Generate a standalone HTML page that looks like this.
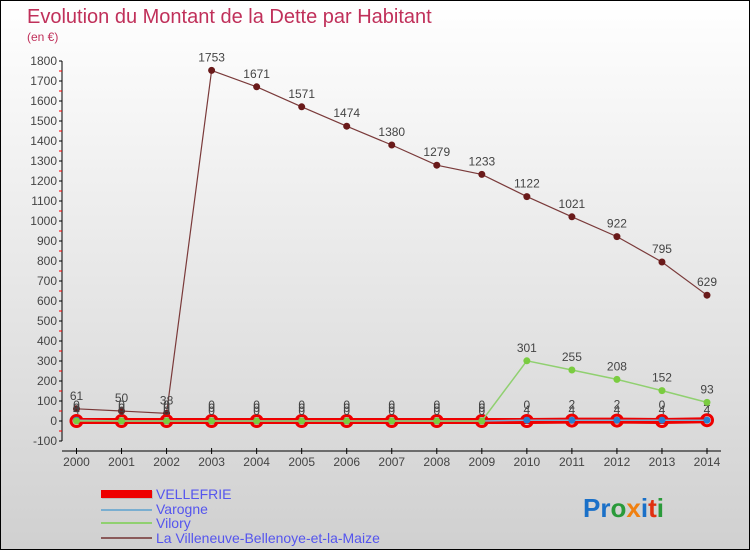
<!DOCTYPE html>
<html><head><meta charset="utf-8"><style>
body{margin:0}
#c{width:748px;height:548px;border:1px solid #000;position:relative;background:linear-gradient(#fff,#d0d0d0);font-family:"Liberation Sans",sans-serif;overflow:hidden}
</style></head><body>
<div id="c">
<svg id="s" width="748" height="548" xmlns="http://www.w3.org/2000/svg">
<text x="26" y="22" font-size="20" fill="#c0305a">Evolution du Montant de la Dette par Habitant</text>
<text x="26" y="40" font-size="12" fill="#c0305a">(en €)</text>
<g id="ax"></g><g id="ser"></g>
<g>
<rect x="101" y="490" width="51" height="8" fill="#bbb"/>
<rect x="100" y="489" width="51" height="8" fill="#e00"/>
<text x="155" y="498" font-size="14" fill="#5555ee">VELLEFRIE</text>
<rect x="100" y="508" width="51" height="2" fill="#7aaed0"/>
<text x="155" y="513" font-size="14" fill="#5555ee">Varogne</text>
<rect x="100" y="521" width="51" height="2" fill="#90d070"/>
<text x="155" y="527" font-size="14" fill="#5555ee">Vilory</text>
<rect x="100" y="536" width="51" height="2" fill="#8a5a5a"/>
<text x="155" y="542" font-size="14" fill="#5555ee">La Villeneuve-Bellenoye-et-la-Maize</text>
</g>
<text x="582" y="516" font-size="26" font-weight="bold"><tspan fill="#1a70c8">Pr</tspan><tspan fill="#2a9a3a">o</tspan><tspan fill="#f08010">x</tspan><tspan fill="#1a70c8">i</tspan><tspan fill="#e03010">t</tspan><tspan fill="#2a9a3a">i</tspan></text>
</svg></div>
<script>
const years=[2000,2001,2002,2003,2004,2005,2006,2007,2008,2009,2010,2011,2012,2013,2014];
const yTicks=[-100,0,100,200,300,400,500,600,700,800,900,1000,1100,1200,1300,1400,1500,1600,1700,1800];
const vellefrie=[0,0,0,0,0,0,0,0,0,0,0,2,2,0,4];
const varogne=[4,0,0,0,0,0,0,0,0,0,4,4,4,4,4];
const vilory=[0,0,0,0,0,0,0,0,0,0,301,255,208,152,93];
const villeneuve=[61,50,38,1753,1671,1571,1474,1380,1279,1233,1122,1021,922,795,629];
const NS="http://www.w3.org/2000/svg";
function X(i){return 75.5+i*(706-75.5)/(years.length-1);}
function Y(v){return 420-v*0.2;}
function mk(t,a,p){const e=document.createElementNS(NS,t);for(const k in a)e.setAttribute(k,a[k]);p.appendChild(e);return e;}
const ax=document.getElementById('ax'),ser=document.getElementById('ser');
let yl=mk('line',{x1:61,y1:Y(1800),x2:61,y2:Y(-100),stroke:'#000'},ax);


yTicks.forEach(v=>{
 mk('line',{x1:58,y1:Y(v),x2:61,y2:Y(v),stroke:'#000'},ax);
 if(v<1800)mk('line',{x1:58,y1:Y(v+50),x2:61,y2:Y(v+50),stroke:'#f00'},ax);
 const t=mk('text',{x:56,y:Y(v)+4,'font-size':12,'text-anchor':'end',fill:'#444'},ax);
 t.textContent=v;
 
 
});
let xl=mk('line',{x1:61,y1:450,x2:720,y2:450,stroke:'#000'},ax);


years.forEach((yr,i)=>{
 mk('line',{x1:X(i),y1:447,x2:X(i),y2:453,stroke:'#000'},ax);
 const t=mk('text',{x:X(i),y:465,'font-size':12,'text-anchor':'middle',fill:'#444'},ax);
 t.textContent=yr;
 
 
});
function series(vals,name,color,w,r,fill,stroke,sw,labelDy){
 const g=mk('g',{},ser);
 
 
 const pl=mk('polyline',{points:vals.map((v,i)=>X(i)+','+Y(v)).join(' '),fill:'none',stroke:color,'stroke-width':w},g);
 
 
 vals.forEach((v,i)=>{
  const c=mk('circle',{cx:X(i),cy:Y(v),r:r,fill:fill,stroke:stroke,'stroke-width':sw},g);
  
  
  const t=mk('text',{x:X(i),y:Y(v)+labelDy,'font-size':12,'text-anchor':'middle',fill:'#444'},g);
  t.textContent=v;
  
  
 });
}
series(villeneuve,'villeneuve','#7a3a3a',1.2,3.5,'#6a1a1a','none',0,-9);
series(vellefrie,'vellefrie','#e00',6,5.5,'none','#e00',3,-12);
series(varogne,'varogne','#7aaed0',1.5,3.5,'#2a80d0','none',0,-6);
series(vilory,'vilory','#90d070',1.5,3.5,'#7acc40','none',0,-9);
</script>
</body></html>
